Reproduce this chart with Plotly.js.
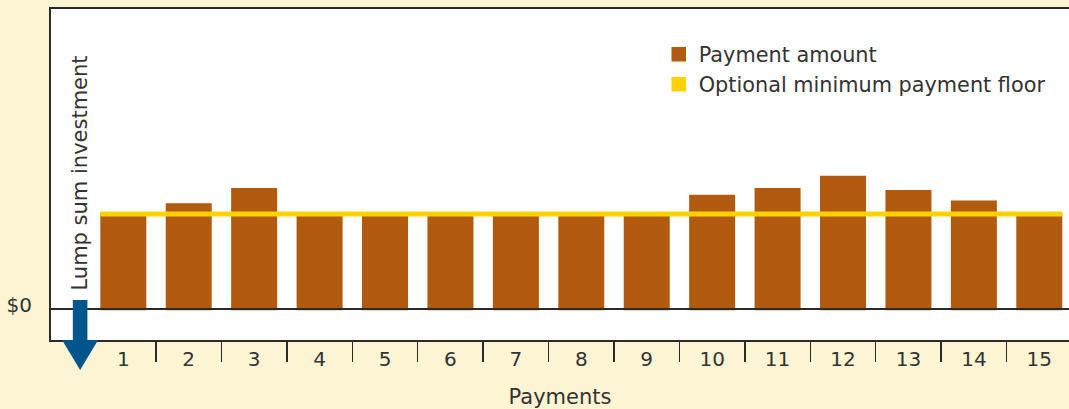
<!DOCTYPE html>
<html>
<head>
<meta charset="utf-8">
<script src="https://cdn.plot.ly/plotly-3.0.1.min.js"></script>
<style>
  html, body { margin: 0; padding: 0; background: #FDF4D4; }
  #chart { width: 1069px; height: 409px; }
</style>
</head>
<body>
<div id="chart"></div>
<script>
// ---- data ----
const categories = [1, 2, 3, 4, 5, 6, 7, 8, 9, 10, 11, 12, 13, 14, 15];
const tickLabels = ["1", "2", "3", "4", "5", "6", "7", "8", "9", "10", "11", "12", "13", "14", "15"];
const payments = [100, 110, 126, 100, 100, 100, 100, 100, 100, 119, 126, 139, 124, 113, 100];
const floorValue = 100;
const seriesNames = ["Payment amount", "Optional minimum payment floor"];
const xTitle = "Payments";
const zeroLabel = "$0";
const lumpSumLabel = "Lump sum investment";
const lumpSumX = 0.34;     // position of the lump sum arrow on the payment axis
const lumpSumTop = 9.5;    // top of the arrow shaft (value units)

// ---- style ----
const BAR = "#B05B10";
const YELLOW = "#FFD200";
const BLUE = "#00558C";
const TXT = "#333333";
const AX = "#2a2a2a";
const FONT = "DejaVu Sans, sans-serif";

const xRange = [-0.105, 15.454];
const yRange = [-32.6, 315.8];
const barWidth = 0.665;
const barLine = 2.5;
const slot = 1;

const margin = {l: 51, r: 0, t: 9, b: 69};
const plotW = 1069 - margin.l - margin.r;
const plotH = 409 - margin.t - margin.b;

function paperX(x) { return (x - xRange[0]) / (xRange[1] - xRange[0]); }
function paperY(y) { return (y - yRange[0]) / (yRange[1] - yRange[0]); }

const halfSpan = (barWidth + barLine / (plotW / (xRange[1] - xRange[0]))) / 2;
const floorX = [categories[0] - halfSpan, categories[categories.length - 1] + halfSpan];
const boundaries = categories.slice(0, -1).map(c => c + slot / 2);

const traces = [
  {
    type: "bar", name: seriesNames[0], x: categories, y: payments,
    width: barWidth,
    marker: {color: BAR, line: {color: BAR, width: barLine}},
    hoverinfo: "skip"
  },
  {
    type: "bar", name: seriesNames[1], x: [categories[0]], y: [null],
    width: barWidth,
    marker: {color: YELLOW, line: {color: YELLOW, width: barLine}},
    hoverinfo: "skip"
  },
  {
    type: "scatter", mode: "lines", showlegend: false,
    x: floorX, y: [floorValue, floorValue],
    xaxis: "x2", yaxis: "y",
    line: {color: YELLOW, width: 5},
    hoverinfo: "skip"
  }
];

// arrow (lump sum investment) drawn below the zero line
const ax = paperX(lumpSumX);
const shaftHalf = 7.3 / plotW;
const headHalf = 18 / plotW;
const headDepth = 30 / plotH;
const shapes = [
  {type: "rect", xref: "paper", yref: "paper",
   x0: ax - shaftHalf, x1: ax + shaftHalf, y0: 0, y1: paperY(lumpSumTop),
   fillcolor: BLUE, line: {width: 0}, layer: "above"},
  {type: "path", xref: "paper", yref: "paper",
   path: `M ${ax - headHalf},0 L ${ax + headHalf},0 L ${ax},${-headDepth} Z`,
   fillcolor: BLUE, line: {width: 0}, layer: "above"}
];

const layout = {
  width: 1069, height: 409,
  margin: margin,
  paper_bgcolor: "#FDF4D4",
  plot_bgcolor: "#FFFFFF",
  font: {family: FONT, color: TXT, size: 21},
  barmode: "overlay",
  showlegend: true,
  legend: {
    x: 0.597, y: 0.924, xanchor: "left", yanchor: "top",
    bgcolor: "rgba(0,0,0,0)", borderwidth: 0,
    font: {family: FONT, size: 20.8, color: TXT},
    traceorder: "normal"
  },
  xaxis: {
    type: "linear", range: xRange, fixedrange: true,
    tickmode: "array", tickvals: categories, ticktext: tickLabels,
    ticks: "", 
    tickfont: {family: FONT, size: 20, color: TXT},
    showgrid: false, zeroline: false,
    showline: true, linecolor: AX, linewidth: 2, mirror: true,
    title: {text: xTitle, font: {family: FONT, size: 21, color: TXT}, standoff: 20}
  },
  xaxis2: {
    type: "linear", range: xRange, overlaying: "x", anchor: "y", side: "bottom",
    fixedrange: true,
    tickmode: "array", tickvals: boundaries,
    ticks: "outside", ticklen: 21, tickwidth: 1.5, tickcolor: AX,
    showticklabels: false, showgrid: false, zeroline: false, showline: false
  },
  yaxis: {
    range: yRange, fixedrange: true,
    tickmode: "array", tickvals: [0], ticktext: [zeroLabel],
    ticks: "outside", ticklen: 13, tickcolor: "rgba(0,0,0,0)",
    ticklabelshift: -4,
    tickfont: {family: FONT, size: 20, color: TXT},
    showgrid: false,
    zeroline: true, zerolinecolor: AX, zerolinewidth: 2.5, zerolinelayer: "above traces",
    showline: true, linecolor: AX, linewidth: 2, mirror: false
  },
  shapes: shapes,
  annotations: [
    {xref: "x", yref: "y", x: lumpSumX, y: 17, text: lumpSumLabel,
     textangle: -90, showarrow: false, xanchor: "center", yanchor: "bottom",
     font: {family: FONT, size: 21, color: TXT}}
  ]
};

Plotly.newPlot("chart", traces, layout, {displayModeBar: false, staticPlot: true});
</script>
</body>
</html>
